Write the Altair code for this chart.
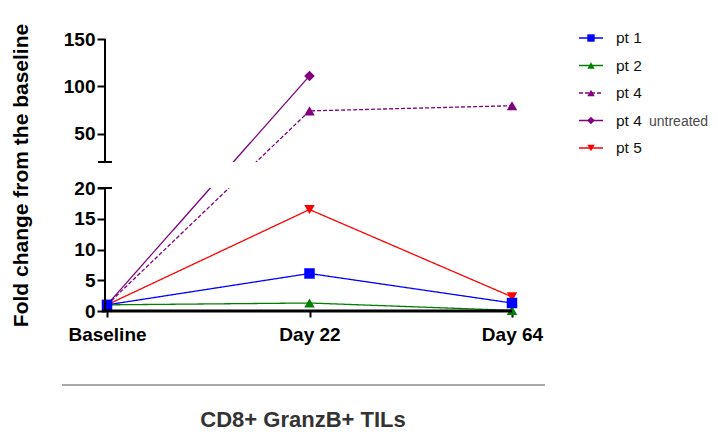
import altair as alt
import pandas as pd

# ---- data ----
timepoints = ["Baseline", "Day 22", "Day 64"]
series = ["pt 1", "pt 2", "pt 4", "pt 4 untreated", "pt 5"]
pt1 = [1.0, 6.1, 1.3]
pt2 = [1.0, 1.3, 0.1]
pt4 = [1.0, 74.0, 79.5]
pt4_untreated = [1.0, 111.0, None]
pt5 = [1.0, 16.5, 2.3]
y_ticks = [0, 5, 10, 15, 20, 50, 100, 150]
colors = ["#0000ff", "#008000", "#800080", "#800080", "#ff0000"]
shapes = ["square", "triangle-up", "triangle-up", "diamond", "triangle-down"]
dashes = [[1, 0], [1, 0], [4, 2], [1, 0], [1, 0]]
legend_labels = ["pt 1", "pt 2", "pt 4", "pt 4", "pt 5"]
legend_suffix = ["", "", "", "untreated", ""]
x_title = "CD8+ GranzB+ TILs"
y_title = "Fold change from the baseline"

values = {"pt 1": pt1, "pt 2": pt2, "pt 4": pt4,
          "pt 4 untreated": pt4_untreated, "pt 5": pt5}
rows = []
for s in reversed(series):
    for t, v in zip(timepoints, values[s]):
        if v is not None:
            rows.append({"series": s, "time": t, "value": v})
df = pd.DataFrame(rows)

FONT = "Liberation Sans"
W, H = 405, 272
LOW_TOP, UP_BOT = 149, 123  # pixel positions of the broken-axis gap
yscale = alt.Scale(domain=[0, 20, 20.001, 150], range=[H, LOW_TOP, UP_BOT, 0],
                   nice=False, zero=False)
xscale = alt.Scale(type="point", domain=timepoints, padding=0)
color_scale = alt.Scale(domain=series, range=colors)
shape_scale = alt.Scale(domain=series, range=shapes)
dash_scale = alt.Scale(domain=series, range=dashes)

x_enc = alt.X("time:N", scale=xscale, sort=timepoints,
              axis=alt.Axis(title=None, domain=False, grid=False, labelAngle=0, labelFont=FONT,
                            labelFontSize=19, labelFontWeight="bold", labelColor="black",
                            tickColor="black", tickWidth=2, tickSize=6, labelPadding=8))
y_enc = alt.Y("value:Q", scale=yscale,
              axis=alt.Axis(values=y_ticks, tickCount=20, title=y_title, titleFont=FONT,
                            titleFontSize=21, titleFontWeight="bold", titleColor="black",
                            titlePadding=32, domain=False, grid=False, tickColor="black",
                            tickWidth=2, tickSize=8, labelFont=FONT, labelFontSize=19,
                            labelFontWeight="bold", labelColor="black", labelPadding=2,
                            labelOverlap=False, offset=2))

base = alt.Chart(df).encode(x=x_enc, y=y_enc)
lines = base.mark_line(strokeWidth=1.3).encode(
    color=alt.Color("series:N", scale=color_scale, legend=None),
    strokeDash=alt.StrokeDash("series:N", scale=dash_scale, legend=None),
)
points = base.mark_point(filled=True, size=110, opacity=1).encode(
    color=alt.Color("series:N", scale=color_scale, legend=None),
    shape=alt.Shape("series:N", scale=shape_scale, legend=None),
)

# white gap of the broken axis
gap = alt.Chart(pd.DataFrame({"lo": [20.0], "hi": [20.001]})).mark_rect(color="white").encode(
    y=alt.Y("lo:Q", scale=yscale), y2="hi:Q", x=alt.value(0), x2=alt.value(W + 4))

# y axis segments
yaxis = alt.Chart(pd.DataFrame({"a": [0.0, 20.001], "b": [20.0, 150.0]})).mark_rule(
    color="black", strokeWidth=2).encode(
    x=alt.value(-2), y=alt.Y("a:Q", scale=yscale), y2="b:Q")
# break caps
caps = alt.Chart(pd.DataFrame({"v": [20.0, 20.001]})).mark_rule(
    color="black", strokeWidth=2).encode(
    y=alt.Y("v:Q", scale=yscale), x=alt.value(-9), x2=alt.value(5))
# x axis line
xaxis = alt.Chart(pd.DataFrame({"v": [0.0]})).mark_rule(
    color="black", strokeWidth=3).encode(
    y=alt.Y("v:Q", scale=yscale), x=alt.value(-5), x2=alt.value(W))

# bottom separator and caption
sep = alt.Chart(pd.DataFrame({"k": [0]})).mark_rule(color="#a8a8a8", strokeWidth=2).encode(
    x=alt.value(-45), x2=alt.value(438), y=alt.value(346))
caption = alt.Chart(pd.DataFrame({"t": [x_title]})).mark_text(
    font=FONT, fontSize=22, fontWeight="bold", color="#333333", baseline="middle",
    align="center").encode(text="t:N", x=alt.value(196), y=alt.value(381))

# manual legend
legend_layers = []
for i, s in enumerate(series):
    ly = -1 + 27.5 * i
    one = pd.DataFrame({"series": [s], "label": [legend_labels[i]], "suffix": [legend_suffix[i]]})
    legend_layers.append(alt.Chart(one).mark_rule(
        color=colors[i], strokeWidth=1.3, strokeDash=dashes[i]).encode(
        x=alt.value(472), x2=alt.value(496), y=alt.value(ly)))
    legend_layers.append(alt.Chart(one).mark_point(
        filled=True, opacity=1, shape=shapes[i], size=55, color=colors[i]).encode(
        x=alt.value(484), y=alt.value(ly)))
    legend_layers.append(alt.Chart(one).mark_text(
        font=FONT, fontSize=15.5, color="#111111", align="left", baseline="middle").encode(
        text="label:N", x=alt.value(509), y=alt.value(ly)))
    if legend_suffix[i]:
        legend_layers.append(alt.Chart(one).mark_text(
            font=FONT, fontSize=14, color="#4a4a4a", align="left", baseline="middle").encode(
            text="suffix:N", x=alt.value(542), y=alt.value(ly + 1)))

chart = alt.layer(lines, points, gap, yaxis, caps, xaxis, sep, caption, *legend_layers).properties(
    width=W, height=H,
    autosize=alt.AutoSizeParams(type="none"),
    padding={"left": 99, "top": 31, "right": 198, "bottom": 121},
).configure(background="white").configure_view(stroke=None)

chart.save("out.html", embed_options={"renderer": "svg", "actions": False})
